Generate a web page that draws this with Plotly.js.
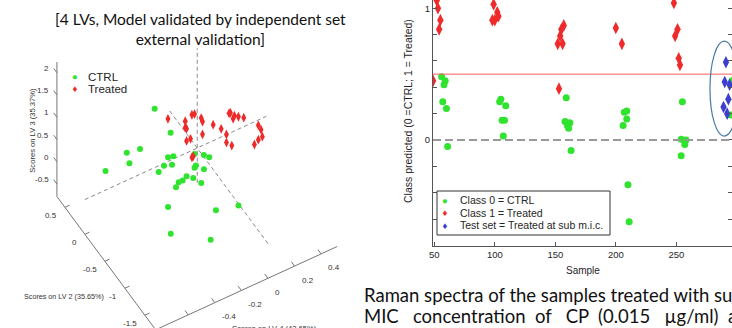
<!DOCTYPE html>
<html><head><meta charset="utf-8">
<script src="https://cdn.plot.ly/plotly-3.0.1.min.js"></script>
<style>html,body{margin:0;padding:0;background:#fff;overflow:hidden}#chart{width:732px;height:328px}</style>
</head><body><div id="chart"></div>
<script>
// ---------- Left panel: PLS-DA scores (LV4, LV2, LV3) ----------
const ctrlLV4 = [-0.20,-0.14,-0.50,-0.34,-0.54,-0.69,-0.28,-0.18,-0.34,-0.22,-0.41,-0.08,-0.04,-0.03,-0.16,-0.08,-0.13,-0.23,-0.21,-0.23,-0.35,-0.21,-0.34,-0.52,-0.22,0.01,-0.65,-0.38];
const ctrlLV2 = [0.40,0.20,0.10,0.30,-0.10,0.00,-0.20,0.00,-0.30,-0.10,-0.40,-0.20,-0.30,-0.40,-0.50,-0.20,-0.60,-0.50,-0.60,-0.40,-0.70,-0.80,-0.60,-1.00,-1.20,-1.00,-1.50,-1.60];
const ctrlLV3 = [0.67,0.29,0.46,0.08,0.52,0.43,0.42,0.06,0.43,0.05,0.51,0.22,0.26,0.32,0.43,-0.09,0.43,0.29,0.34,0.07,0.56,0.47,0.31,0.60,0.36,-0.09,0.78,0.40];
const trtLV4 = [-0.13,-0.03,-0.01,-0.02,0.06,0.01,0.03,-0.02,0.12,0.12,0.07,0.04,-0.08,0.28,0.16,0.26,0.27,0.22,0.34,0.27,0.28,0.38,0.46,0.42,0.40,0.43,0.31,-0.13,-0.09];
const trtLV2 = [0.30,0.20,0.10,0.00,0.10,-0.10,0.40,0.20,0.00,-0.20,0.10,0.30,0.00,0.20,-0.20,0.00,0.10,-0.10,0.20,0.00,-0.10,0.10,0.00,-0.20,-0.30,-0.10,-0.40,-0.30,-0.20];
const trtLV3 = [0.47,0.40,0.64,0.79,0.47,0.70,-0.07,0.22,0.36,0.51,0.09,-0.21,0.27,-0.32,0.15,-0.30,0.29,0.61,0.02,0.29,0.44,0.04,-0.12,0.08,0.07,-0.28,0.14,0.33,0.18];
const lv4Range = [-0.845, 0.52];
const lv2Range = [-1.77, 0.70];
const lv3Range = [-0.78, 2.24];
const lv4Ticks = [-0.6,-0.4,-0.2,0,0.2,0.4];
const lv2Ticks = [-1.5,-1,-0.5,0,0.5];
const lv3Ticks = [-0.5,0,0.5,1,1.5,2];

// ---------- Right panel: class predicted ----------
const ctrlSample = [56,59,58,57,60,61,105,104,109,106,108,107,159,158,162,160,161,163,207,209,209,206,210,211,255,254,258,257,254,296,295];
const ctrlPred   = [0.48,0.45,0.42,0.29,0.24,-0.05,0.31,0.29,0.26,0.15,0.15,0.03,0.32,0.14,0.13,0.11,0.09,-0.08,0.21,0.22,0.16,0.11,-0.34,-0.62,0.29,0.005,0.0,-0.035,-0.12,0.45,0.19];
const trtSample  = [49,52,53,55,54,99,102,98,100,103,152,154,155,157,156,153,200,205,248,251,249,252,253];
const trtPred    = [0.45,1.06,1.00,0.91,0.84,1.03,0.97,0.91,0.91,0.94,0.73,0.79,0.84,0.87,0.73,0.39,0.85,0.73,1.04,0.84,0.79,0.62,0.57];
const testSample = [291,290,294,293,289,292];
const testPred   = [0.59,0.44,0.42,0.31,0.25,0.20];
const sampleTicks = [50,100,150,200,250,300];
const predTicks = [-0.6,-0.4,-0.2,0,0.2,0.4,0.6,0.8,1];
const predTickText = ['','','','0','','','','','1'];
const classThreshold = 0.5;
const testEllipseX = [277.8, 301.4];
const testEllipseY = [0.03, 0.75];

// ---------- page geometry & styles ----------
const W = 732, H = 328;
const px = v => v / W, py = v => 1 - v / H;
const GREEN = '#2fe32f', RED = '#ee2a2a', BLUE = '#3d3dd0';
const AX = '#555', TXT = '#262626';
const FONT = 'Liberation Sans, Arial';

// orthographic 3-D view of the score box (azimuth/elevation, box edge lengths in px, box centre on page)
const VIEW = {az: 239.76, el: 51.9, box: [210, 196, 218], cx: 197, cy: 154.3};
const rad = Math.PI / 180;
const Rv = [-Math.sin(VIEW.az*rad), Math.cos(VIEW.az*rad), 0];
const Uv = [-Math.cos(VIEW.az*rad)*Math.sin(VIEW.el*rad), -Math.sin(VIEW.az*rad)*Math.sin(VIEW.el*rad), Math.cos(VIEW.el*rad)];
const ranges3 = [lv4Range, lv2Range, lv3Range];
const sc3 = ranges3.map((r, i) => VIEW.box[i] / (r[1] - r[0]));
const mid3 = ranges3.map(r => (r[0] + r[1]) / 2);
function proj(a, b, c) {
  const v = [(a - mid3[0]) * sc3[0], (b - mid3[1]) * sc3[1], (c - mid3[2]) * sc3[2]];
  return [VIEW.cx + v[0]*Rv[0] + v[1]*Rv[1] + v[2]*Rv[2],
          VIEW.cy - (v[0]*Uv[0] + v[1]*Uv[1] + v[2]*Uv[2])];
}
function projAll(A, B, C) {
  const out = {x: [], y: []};
  A.forEach((a, i) => { const p = proj(a, B[i], C[i]); out.x.push(p[0]); out.y.push(p[1]); });
  return out;
}
function segs(list) { // list of [[a,b,c],[a,b,c]] pairs -> polyline with gaps
  const out = {x: [], y: []};
  list.forEach(s => { s.forEach(q => { const p = proj(q[0], q[1], q[2]); out.x.push(p[0]); out.y.push(p[1]); });
    out.x.push(null); out.y.push(null); });
  return out;
}
const [a0, a1] = lv4Range, [b0, b1] = lv2Range, [c0, c1] = lv3Range;

const boxAxes = segs([[[a0,b1,c1],[a0,b1,c0]], [[a0,b1,c0],[a0,b0,c0]], [[a0,b0,c0],[a1,b0,c0]]]);
const tickSegs = segs([
  ...lv3Ticks.map(t => [[a0,b1,t],[a0,b1+0.08,t]]),
  ...lv2Ticks.map(t => [[a0,t,c0],[a0+0.035,t,c0]]),
  ...lv4Ticks.map(t => [[t,b0,c0],[t,b0+0.08,c0]])
]);
const zeroLines = segs([[[a0,0,0],[a1,0,0]], [[0,b0,0],[0,b1,0]], [[0,0,c0],[0,0,c1]]]);
const ctrlP = projAll(ctrlLV4, ctrlLV2, ctrlLV3);
const trtP = projAll(trtLV4, trtLV2, trtLV3);

const L2 = {xaxis: 'x2', yaxis: 'y2', showlegend: false, hoverinfo: 'skip'};
const traces = [
  Object.assign({type: 'scatter', mode: 'lines', x: boxAxes.x, y: boxAxes.y, line: {color: '#777', width: 1}}, L2),
  Object.assign({type: 'scatter', mode: 'lines', x: tickSegs.x, y: tickSegs.y, line: {color: '#777', width: 1}}, L2),
  Object.assign({type: 'scatter', mode: 'lines', x: zeroLines.x, y: zeroLines.y, line: {color: '#8a8a8a', width: 1, dash: '4px,3px'}}, L2),
  Object.assign({type: 'scatter', mode: 'markers', name: 'CTRL', x: ctrlP.x, y: ctrlP.y,
    marker: {color: GREEN, size: 6, symbol: 'circle'}}, L2),
  Object.assign({type: 'scatter', mode: 'markers', name: 'Treated', x: trtP.x, y: trtP.y,
    marker: {color: RED, size: 7, symbol: 'diamond-tall'}}, L2),
  {type: 'scatter', mode: 'markers', name: 'Class 0 = CTRL', x: ctrlSample, y: ctrlPred,
   marker: {color: GREEN, size: 7, symbol: 'circle'}, showlegend: false},
  {type: 'scatter', mode: 'markers', name: 'Class 1 = Treated', x: trtSample, y: trtPred,
   marker: {color: RED, size: 9, symbol: 'diamond-tall'}, showlegend: false},
  {type: 'scatter', mode: 'markers', name: 'Test set = Treated at sub m.i.c.', x: testSample, y: testPred,
   marker: {color: BLUE, size: 9, symbol: 'diamond-tall'}, showlegend: false}
];

const lab = (x, y, text, size, opts) => Object.assign({
  xref: 'paper', yref: 'paper', x: px(x), y: py(y), text, showarrow: false,
  xanchor: 'left', yanchor: 'middle', font: {size, color: TXT, family: FONT}
}, opts || {});
const lab3 = (p, dx, dy, text, anchor) => ({xref: 'x2', yref: 'y2', x: p[0] + dx, y: p[1] + dy, text,
  showarrow: false, xanchor: anchor, yanchor: 'middle', font: {size: 8, color: '#333', family: FONT}});
const nb = n => '\u00a0'.repeat(n);
const sw = (c, g) => '<span style="color:' + c + '">' + g + '</span>';

const tickLabels3 = [
  ...lv3Ticks.map(t => lab3(proj(a0, b1, t), -6, -4.5, String(t), 'right')),
  ...lv2Ticks.map(t => lab3(proj(a0, t, c0), -6, 8.5, String(t), 'right')),
  ...lv4Ticks.map(t => lab3(proj(t, b0, c0), 5, 14, String(t), 'left'))
];

const layout = {
  width: W, height: H, margin: {l: 0, r: 0, t: 0, b: 0},
  paper_bgcolor: '#fff', plot_bgcolor: 'rgba(0,0,0,0)', showlegend: false, hovermode: false,
  xaxis2: {domain: [0, px(360)], range: [0, 360], visible: false, fixedrange: true, anchor: 'y2'},
  yaxis2: {domain: [0, 1], range: [H, 0], visible: false, fixedrange: true, anchor: 'x2'},
  xaxis: {domain: [px(433), 1], range: [48.9, 296], tickvals: sampleTicks, ticks: 'inside', ticklen: 4,
    tickcolor: AX, showline: true, linecolor: AX, linewidth: 1, mirror: false, showgrid: false, zeroline: false,
    tickfont: {size: 9.5, color: TXT, family: FONT}, anchor: 'y'},
  yaxis: {domain: [py(246), 1], range: [-0.805, 1.063], tickvals: predTicks, ticktext: predTickText,
    ticks: 'inside', ticklen: 4, tickcolor: AX, showline: true, linecolor: AX, linewidth: 1, mirror: 'ticks',
    showgrid: false, zeroline: false, tickfont: {size: 9.5, color: TXT, family: FONT}, anchor: 'x'},
  shapes: [
    {type: 'line', xref: 'paper', x0: px(433), x1: 1, yref: 'y', y0: 0, y1: 0,
     line: {color: '#9a9a9a', width: 2, dash: '8px,4px'}},
    {type: 'line', xref: 'paper', x0: px(433), x1: 1, yref: 'y', y0: classThreshold, y1: classThreshold,
     line: {color: '#ff5c5c', width: 1}},
    {type: 'circle', xref: 'x', yref: 'y', x0: testEllipseX[0], x1: testEllipseX[1], y0: testEllipseY[0], y1: testEllipseY[1],
     line: {color: '#4a78a8', width: 1.2}},
    {type: 'rect', xref: 'paper', yref: 'paper', x0: px(437), x1: px(610), y0: py(235), y1: py(191),
     line: {color: '#333', width: 1}, fillcolor: '#fff', layer: 'above'}
  ],
  annotations: [
    ...tickLabels3,
    lab(31.7, 130, 'Scores on LV 3 (35.37%)', 7.6, {xanchor: 'center', textangle: -90, font: {size: 7.6, color: '#333', family: FONT}}),
    lab(64, 296, 'Scores on LV 2 (35.65%)', 7.2, {xanchor: 'center', font: {size: 7.2, color: '#333', family: FONT}}),
    lab(274, 328, 'Scores on LV 4 (42.65%)', 7.6, {xanchor: 'center', font: {size: 7.6, color: '#333', family: FONT}}),
    lab(200, 29, '[4 LVs, Model validated by independent set<br>external validation]', 15.5,
      {xanchor: 'center', align: 'center', font: {size: 15.5, color: '#111', family: 'Lato, Open Sans'}}),
    // left legend
    lab(75, 82.75, sw(GREEN, '\u25CF') + '<br>' + sw(RED, '\u2666'), 9.6, {xanchor: 'center', align: 'center'}),
    lab(86, 76.5, 'CTRL', 11.5),
    lab(86, 89, 'Treated', 11.5),
    // right legend
    lab(445, 212.5, sw(GREEN, '\u25CF') + '<br>' + sw(RED, '\u2666') + '<br>' + sw(BLUE, '\u2666'), 9.6, {xanchor: 'center', align: 'center'}),
    lab(458, 200, 'Class 0 = CTRL', 10.5),
    lab(458, 212.5, 'Class 1 = Treated', 10.5),
    lab(458, 225, 'Test set = Treated at sub m.i.c.', 10.5),
    // axis titles of right panel
    lab(582.7, 270, 'Sample', 10, {xanchor: 'center'}),
    lab(408, 111, 'Class predicted (0 =CTRL; 1 = Treated)', 10.5, {xanchor: 'center', textangle: -90}),
    // caption
    lab(362, 295, 'Raman spectra of the samples treated with sub', 18.5, {font: {size: 18.5, color: '#111', family: 'Lato, Open Sans'}}),
    lab(362, 316, 'MIC' + nb(3) + 'concentration' + nb(2) + 'of' + nb(3) + 'CP' + nb(2) + '(0.015' + nb(3) + '\u00b5g/ml)' + nb(2) + 'and', 18.5,
      {font: {size: 18.5, color: '#111', family: 'Lato, Open Sans'}})
  ]
};

Plotly.newPlot('chart', traces, layout, {displayModeBar: false, responsive: false});
</script></body></html>
